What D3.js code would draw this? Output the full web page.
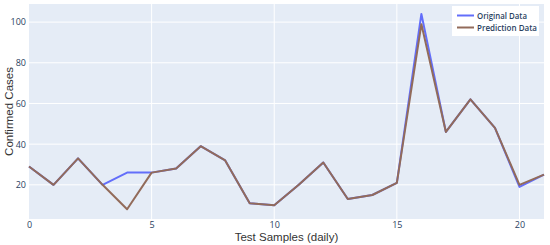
<!DOCTYPE html>
<html>
<head>
<meta charset="utf-8">
<script src="https://cdn.jsdelivr.net/npm/d3@7"></script>
<style>
  body { margin: 0; background: #fff; }
  svg { display: block; }
</style>
</head>
<body>
<svg id="chart"></svg>
<script>
// Data
const days = d3.range(0, 22);
const originalData = [29, 20, 33, 20, 26, 26, 28, 39, 32, 11, 10, 20, 31, 13, 15, 21, 104, 46, 62, 48, 19, 25];
const predictionData = [29, 20, 33, 20, 8, 26, 28, 39, 32, 11, 10, 20, 31, 13, 15, 21, 99, 46, 62, 48, 20, 25];
const xTicks = [0, 5, 10, 15, 20];
const yTicks = [20, 40, 60, 80, 100];
const seriesNames = ["Original Data", "Prediction Data"];
const seriesColors = ["#636efa", "#926b5a"];
const legendTextWidths = [50, 60];

const width = 550, height = 245;
const margin = { top: 4, right: 6, bottom: 26, left: 29 };

const svg = d3.select('#chart')
  .attr('width', width)
  .attr('height', height);

const x = d3.scaleLinear().domain([0, 21]).range([margin.left, width - margin.right]);
const y = d3.scaleLinear().domain([3.2, 108.9]).range([height - margin.bottom, margin.top]);

// plot background
svg.append('rect')
  .attr('x', margin.left)
  .attr('y', margin.top)
  .attr('width', width - margin.left - margin.right)
  .attr('height', height - margin.top - margin.bottom)
  .attr('fill', '#e5ecf6');

// grid lines
svg.append('g')
  .selectAll('line')
  .data(yTicks)
  .join('line')
  .attr('x1', margin.left)
  .attr('x2', width - margin.right)
  .attr('y1', d => y(d))
  .attr('y2', d => y(d))
  .attr('stroke', '#fff')
  .attr('stroke-width', 1);

svg.append('g')
  .selectAll('line')
  .data(xTicks.filter(d => d > 0))
  .join('line')
  .attr('x1', d => x(d))
  .attr('x2', d => x(d))
  .attr('y1', margin.top)
  .attr('y2', height - margin.bottom)
  .attr('stroke', '#fff')
  .attr('stroke-width', 1);

// axes (labels only, plotly style)
const xAxis = svg.append('g')
  .attr('transform', `translate(0,${height - margin.bottom})`)
  .call(d3.axisBottom(x).tickValues(xTicks).tickSize(0).tickPadding(3));
const yAxis = svg.append('g')
  .attr('transform', `translate(${margin.left},0)`)
  .call(d3.axisLeft(y).tickValues(yTicks).tickSize(0).tickPadding(3));

[xAxis, yAxis].forEach(ax => {
  ax.select('.domain').remove();
  ax.selectAll('text')
    .attr('fill', '#2a3f5f')
    .style('font-family', '"Open Sans", Verdana, Arial, sans-serif')
    .style('font-size', '9px');
});

// axis titles
svg.append('text')
  .attr('x', x(10.5))
  .attr('y', 240.5)
  .attr('text-anchor', 'middle')
  .style('font-family', 'Arial, "Liberation Sans", sans-serif')
  .style('font-size', '11.5px')
  .attr('fill', '#333')
  .text('Test Samples (daily)');

svg.append('text')
  .attr('transform', `translate(13,${(margin.top + height - margin.bottom) / 2}) rotate(-90)`)
  .attr('text-anchor', 'middle')
  .style('font-family', 'Arial, "Liberation Sans", sans-serif')
  .style('font-size', '11.5px')
  .attr('fill', '#333')
  .text('Confirmed Cases');

// lines
const line = d3.line()
  .x((d, i) => x(days[i]))
  .y(d => y(d));

[originalData, predictionData].forEach((series, i) => {
  svg.append('path')
    .datum(series)
    .attr('fill', 'none')
    .attr('stroke', seriesColors[i])
    .attr('stroke-width', 2)
    .attr('stroke-linejoin', 'round')
    .attr('d', line);
});

// legend
const legend = svg.append('g').attr('transform', 'translate(452,6)');
legend.append('rect')
  .attr('width', 87)
  .attr('height', 30)
  .attr('fill', '#fff');

const item = legend.selectAll('g.item')
  .data(seriesNames)
  .join('g')
  .attr('class', 'item')
  .attr('transform', (d, i) => `translate(0,${9.5 + i * 12})`);

item.append('line')
  .attr('x1', 5)
  .attr('x2', 22)
  .attr('stroke', (d, i) => seriesColors[i])
  .attr('stroke-width', 2);

item.append('text')
  .attr('x', 25)
  .attr('dy', '0.35em')
  .attr('fill', '#2a3f5f')
  .attr('textLength', (d, i) => legendTextWidths[i])
  .attr('lengthAdjust', 'spacingAndGlyphs')
  .style('font-family', '"Open Sans", Verdana, Arial, sans-serif')
  .style('font-size', '9px')
  .style('font-weight', '600')
  .text(d => d);
</script>
</body>
</html>
